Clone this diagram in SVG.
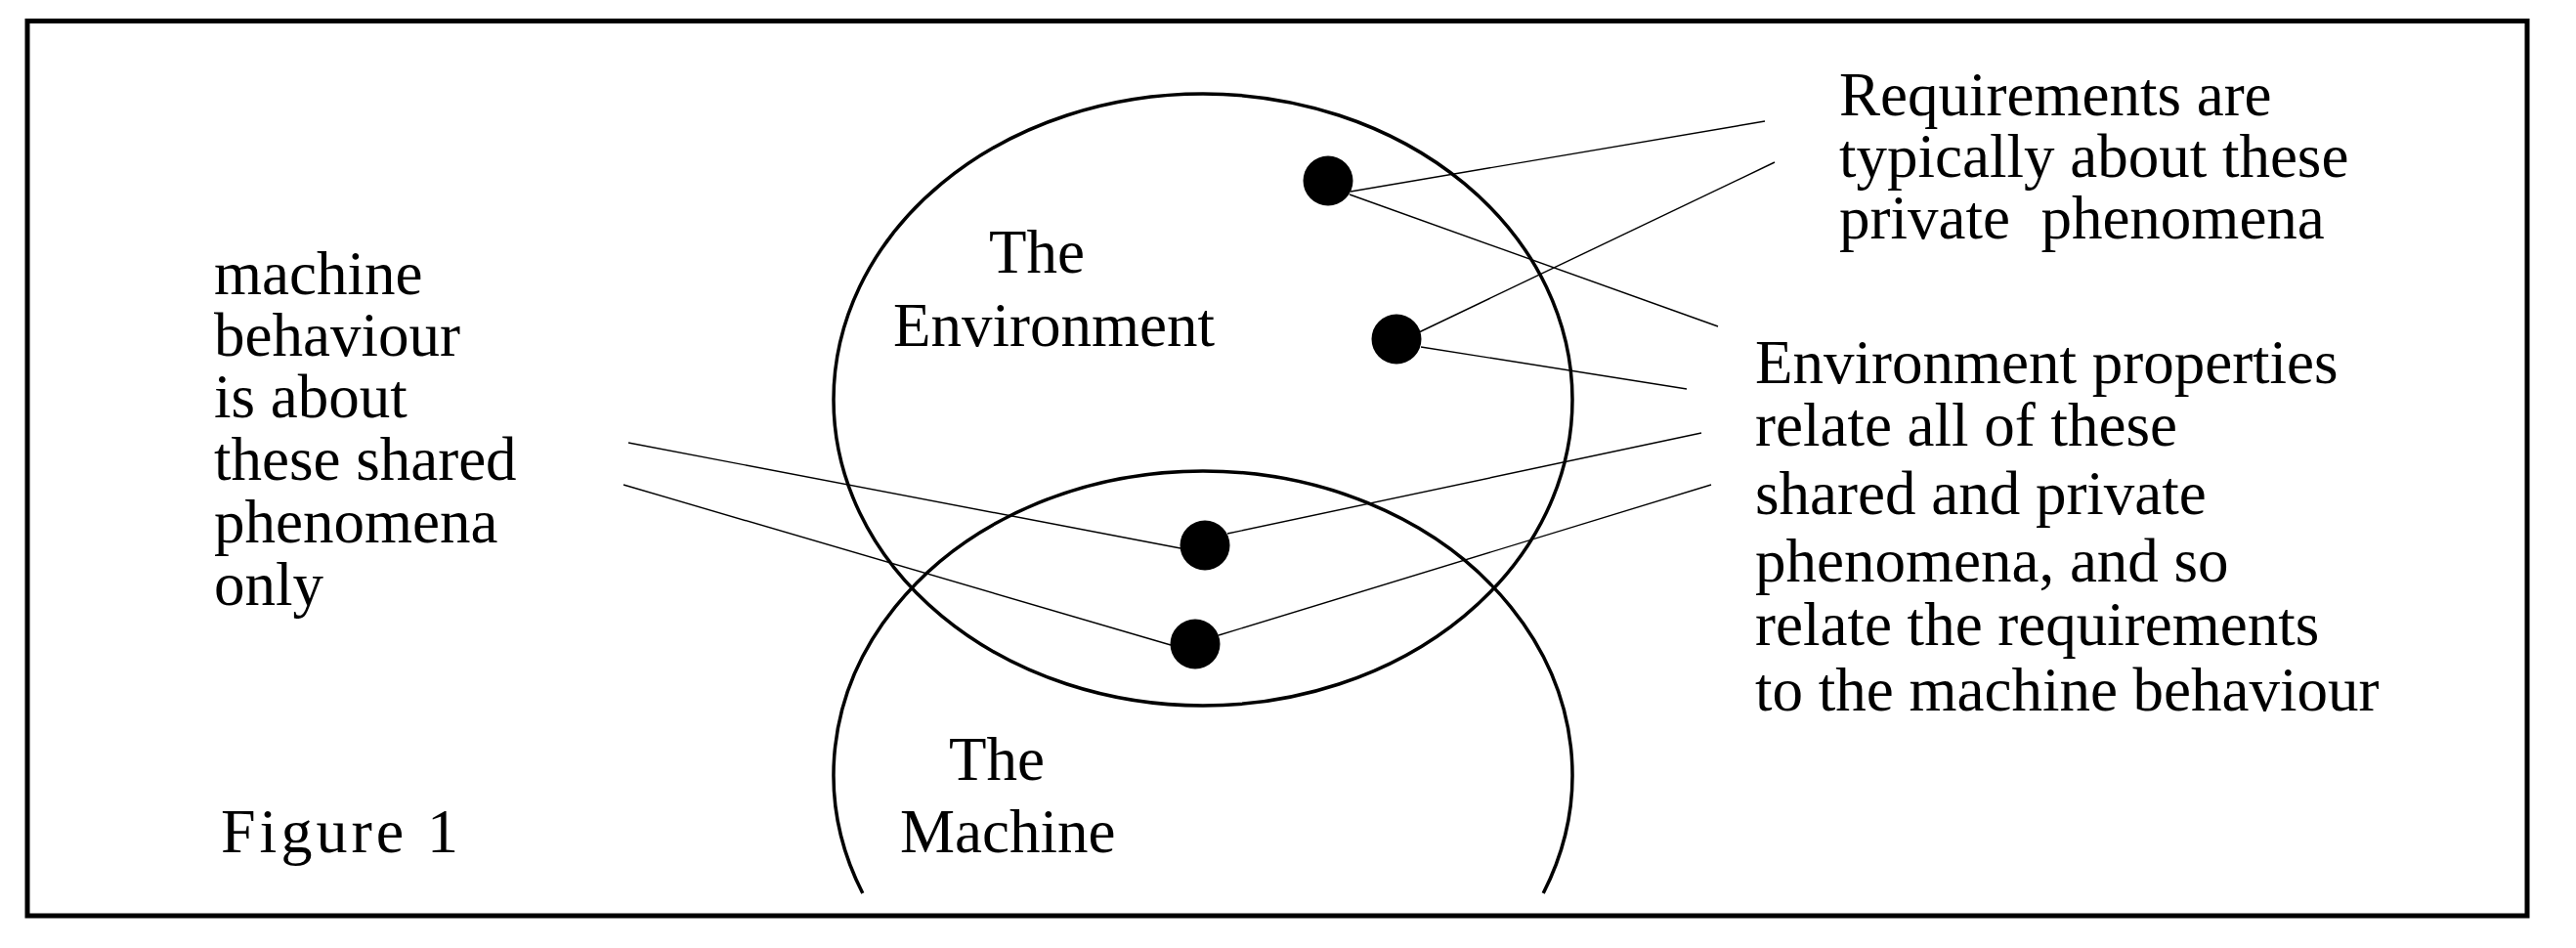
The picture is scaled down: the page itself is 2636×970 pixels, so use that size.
<svg xmlns="http://www.w3.org/2000/svg" width="2636" height="970" viewBox="0 0 2636 970">
<style>
  .t { font-family: "Liberation Serif", "Times New Roman", serif; font-size: 63px; fill: #000; }
  .fig { font-family: "Liberation Serif", "Times New Roman", serif; font-size: 64px; fill: #000; letter-spacing: 4px; }
  .ring { fill: none; stroke: #000; stroke-width: 3.5; }
  .dot { fill: #000; }
  .conn line { stroke: #000; stroke-width: 1.4; }
</style>
<rect x="0" y="0" width="2636" height="970" fill="#fff"/>
<rect id="frame" x="28" y="21.5" width="2558" height="915.5" fill="none" stroke="#000" stroke-width="5"/>

<g id="environment">
  <ellipse class="ring" cx="1231" cy="409" rx="378" ry="313"/>
  <text class="t" x="1012" y="279">The</text>
  <text class="t" x="914" y="354">Environment</text>
</g>

<g id="machine">
  <path class="ring" d="M 882.8 914 A 378 311 0 1 1 1579.2 914"/>
  <text class="t" x="971" y="798">The</text>
  <text class="t" x="921" y="872">Machine</text>
</g>

<g id="connectors" class="conn">
  <line x1="1382" y1="196" x2="1806" y2="124"/>
  <line x1="1381" y1="199" x2="1758" y2="334"/>
  <line x1="1452" y1="340" x2="1816" y2="166"/>
  <line x1="1454" y1="355" x2="1726" y2="398"/>
  <line x1="1256" y1="546" x2="1741" y2="443"/>
  <line x1="643" y1="453" x2="1208" y2="561"/>
  <line x1="1247" y1="650" x2="1751" y2="496"/>
  <line x1="638" y1="496" x2="1198" y2="660"/>
</g>

<g id="dot-private-1"><circle class="dot" cx="1359" cy="185" r="25.5"/></g>
<g id="dot-private-2"><circle class="dot" cx="1429" cy="347" r="25.5"/></g>
<g id="dot-shared-1"><circle class="dot" cx="1233" cy="558" r="25.5"/></g>
<g id="dot-shared-2"><circle class="dot" cx="1223" cy="659" r="25.5"/></g>

<g id="label-machine-behaviour">
  <text class="t" x="219" y="301">machine</text>
  <text class="t" x="219" y="364">behaviour</text>
  <text class="t" x="219" y="427">is about</text>
  <text class="t" x="219" y="491">these shared</text>
  <text class="t" x="219" y="555">phenomena</text>
  <text class="t" x="219" y="619">only</text>
</g>

<g id="label-requirements">
  <text class="t" x="1882" y="118">Requirements are</text>
  <text class="t" x="1882" y="181">typically about these</text>
  <text class="t" x="1882" y="244" xml:space="preserve">private  phenomena</text>
</g>

<g id="label-environment-properties">
  <text class="t" x="1796" y="392">Environment properties</text>
  <text class="t" x="1796" y="456">relate all of these</text>
  <text class="t" x="1796" y="526">shared and private</text>
  <text class="t" x="1796" y="595">phenomena, and so</text>
  <text class="t" x="1796" y="660">relate the requirements</text>
  <text class="t" x="1796" y="727">to the machine behaviour</text>
</g>

<g id="caption">
  <text class="fig" x="226" y="872">Figure 1</text>
</g>
</svg>
